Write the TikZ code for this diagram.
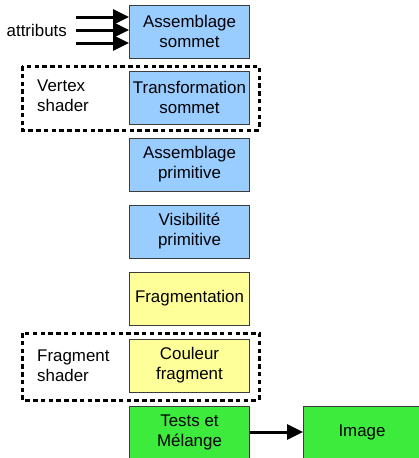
\documentclass[tikz,border=0pt]{standalone}
\usepackage{fontspec}
\setmainfont{Liberation Sans}
\usetikzlibrary{arrows.meta}
\definecolor{cblue}{HTML}{99CCFF}
\definecolor{cyellow}{HTML}{FFFF99}
\definecolor{cgreen}{HTML}{3DEB3D}
\definecolor{cborder}{HTML}{3C3C3C}
\begin{document}
\begin{tikzpicture}[x=1pt,y=-1pt,
  stage/.style={draw=cborder, line width=1pt, minimum width=120pt, minimum height=53pt,
     inner sep=0pt, align=center, font=\fontsize{16.9}{20}\selectfont, anchor=north west},
  blue/.style={stage, fill=cblue},
  yel/.style={stage, fill=cyellow},
  grn/.style={stage, fill=cgreen},
  shaderbox/.style={draw=black, line width=3pt, dash pattern=on 4.5pt off 3.3pt},
  lbl/.style={font=\fontsize{16.9}{20}\selectfont, align=left, anchor=west, inner sep=0pt},
  arr/.style={line width=3pt, -{Triangle[length=16pt,width=15pt]}}
]
\useasboundingbox (0,0) rectangle (419,458);
% dashed groups
\draw[shaderbox] (22,66) rectangle (259,130);
\draw[shaderbox] (22,333) rectangle (259,400);
% stages
\node[blue] (s1) at (129,4.5) {Assemblage\\sommet};
\node[blue] (s2) at (129,70.5) {Transformation\\sommet};
\node[blue] (s3) at (129,137.5) {Assemblage\\primitive};
\node[blue] (s4) at (129,204.5) {Visibilité\\primitive};
\node[yel] (s5) at (129,271.5) {Fragmentation};
\node[yel] (s6) at (129,338.5) {Couleur\\fragment};
\node[grn] (s7) at (129,405.5) {Tests et\\Mélange};
\node[grn, minimum width=117pt] (img) at (303,405.5) {Image};
% labels
\node[lbl] (vs) at (37,96) {Vertex\\shader};
\node[lbl] (fs) at (37,366) {Fragment\\shader};
\node[lbl, anchor=east] (attr) at (67,30) {attributs};
% arrows
\coordinate (a1) at (76,17);
\coordinate (a2) at (76,30);
\coordinate (a3) at (76,43);
\draw[arr] (a1) -- (a1 -| s1.west);
\draw[arr] (a2) -- (a2 -| s1.west);
\draw[arr] (a3) -- (a3 -| s1.west);
\draw[arr] (s7.east |- 0,432) -- (img.west |- 0,432);
\end{tikzpicture}
\end{document}
